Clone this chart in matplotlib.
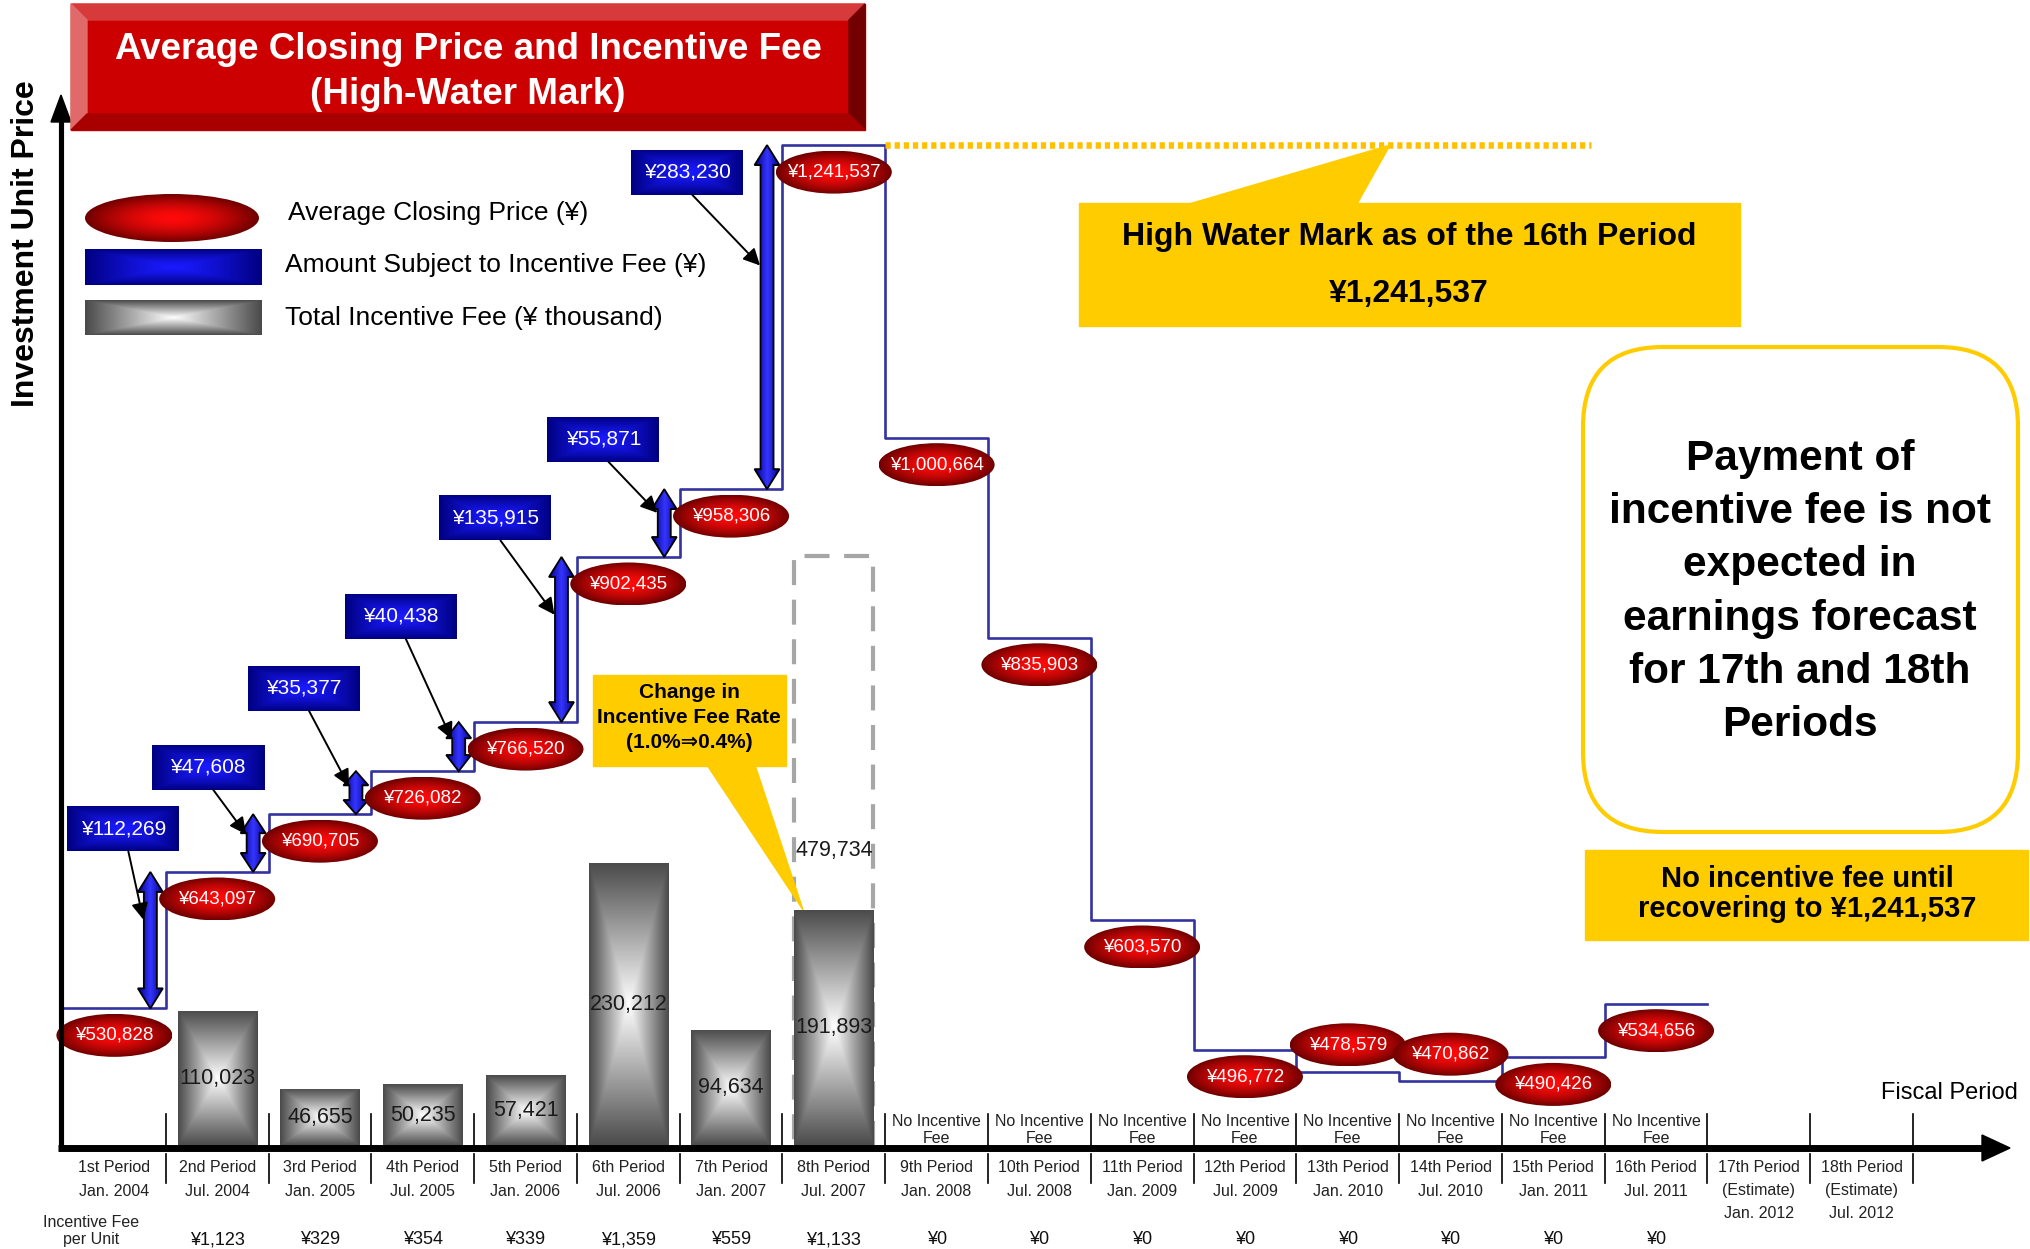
import numpy as np
import matplotlib
matplotlib.use("Agg")
import matplotlib.pyplot as plt
import matplotlib.patches as mpatches
import matplotlib.transforms as mtrans
from matplotlib.colors import to_rgb

plt.rcParams['font.family'] = ['Liberation Sans', 'DejaVu Sans']

# ---- data ----
period_names = ["1st Period", "2nd Period", "3rd Period", "4th Period", "5th Period",
                "6th Period", "7th Period", "8th Period", "9th Period", "10th Period",
                "11th Period", "12th Period", "13th Period", "14th Period", "15th Period",
                "16th Period", "17th Period", "18th Period"]
period_dates = ["Jan. 2004", "Jul. 2004", "Jan. 2005", "Jul. 2005", "Jan. 2006", "Jul. 2006",
                "Jan. 2007", "Jul. 2007", "Jan. 2008", "Jul. 2008", "Jan. 2009", "Jul. 2009",
                "Jan. 2010", "Jul. 2010", "Jan. 2011", "Jul. 2011", "Jan. 2012", "Jul. 2012"]
estimate_periods = [17, 18]

closing_price = [530828, 643097, 690705, 726082, 766520, 902435, 958306, 1241537,
                 1000664, 835903, 603570, 496772, 478579, 470862, 490426, 534656]
amount_subject = [112269, 47608, 35377, 40438, 135915, 55871, 283230]   # periods 2-8
fee_periods = [2, 3, 4, 5, 6, 7, 8]
total_fee = [110023, 46655, 50235, 57421, 230212, 94634, 191893]       # yen thousand
fee_old_rate = 479734                                                  # 8th period at 1.0%
fee_per_unit = [None, 1123, 329, 354, 339, 1359, 559, 1133, 0, 0, 0, 0, 0, 0, 0, 0]
high_water_mark = 1241537

# ---- figure / axes ----
W, H = 2031, 1249
fig = plt.figure(figsize=(W / 100, H / 100), dpi=100)
axf = fig.add_axes([0, 0, 1, 1])   # incentive fee bars
ax = fig.add_axes([0, 0, 1, 1])    # unit price
axo = fig.add_axes([0, 0, 1, 1])   # decorations, pixel coords
for a in (axf, ax, axo):
    a.set_axis_off()
    a.set_autoscale_on(False)

XL = (-0.113, 19.648)
ax.set_xlim(XL)
ax.set_ylim(332700, 1361000)
axf.set_xlim(XL)
axf.set_ylim(-83700, 931300)
axo.set_xlim(0, W)
axo.set_ylim(H, 0)

sx = (XL[1] - XL[0]) / W
sy = (1361000 - 332700) / H

tb = mtrans.blended_transform_factory(ax.transData, axo.transData)


def to_px(a, x, y):
    d = a.transData.transform((x, y))
    return axo.transData.inverted().transform(d)


def shade(a, patch, extent, c_in, c_out, mode='rect', z=3, power=1.0):
    u = np.linspace(-1, 1, 200)
    U, V = np.meshgrid(u, u)
    if mode == 'radial':
        t = np.clip(np.hypot(U, V), 0, 1)
    elif mode == 'h':
        t = np.abs(U)
    else:
        t = np.maximum(np.abs(U), np.abs(V))
    t = t ** power
    ci, co = np.array(to_rgb(c_in)), np.array(to_rgb(c_out))
    img = (1 - t)[..., None] * ci + t[..., None] * co
    im = a.imshow(img, extent=extent, aspect='auto', interpolation='bilinear', zorder=z)
    if patch.axes is None:
        a.add_patch(patch)
    patch.set_zorder(z + 0.01)
    im.set_clip_path(patch)


# ---- fee bars ----
bars = axf.bar(fee_periods, total_fee, width=0.77, facecolor='none', edgecolor='none', zorder=3)
for b in bars:
    shade(axf, b, (b.get_x(), b.get_x() + b.get_width(), 0, b.get_height()),
          '#ffffff', '#4a4a4a', 'rect', z=3)
axf.bar([fee_periods[-1]], [fee_old_rate], width=0.77, fill=False, edgecolor='#a6a6a6',
        lw=3, linestyle=(0, (6, 3.5)), zorder=2)
for p, v in zip(fee_periods, total_fee):
    axf.text(p, v / 2, f"{v:,}", ha='center', va='center', fontsize=15.5, color='#1a1a1a', zorder=5)
axf.text(fee_periods[-1], fee_old_rate / 2, f"{fee_old_rate:,}", ha='center', va='center',
         fontsize=15.5, color='#1a1a1a', zorder=5)

# ---- price step line ----
edges = np.arange(0.5, len(closing_price) + 1)
ax.step(edges, np.append(closing_price, closing_price[-1]), where='post',
        color='#3333a0', lw=1.9, zorder=2)
ax.plot([8.5, 15.37], [high_water_mark, high_water_mark], color='#ffc000', lw=4.7,
        linestyle=(0, (0.8, 0.6)), solid_capstyle='butt', zorder=2)

# amount subject to incentive fee: double arrows + boxes
box_offsets = [(-27, -43), (-45, -47), (-52, -83), (-58, -106), (-66, -39), (-61, -50), (-80, 27)]
for k, amt in enumerate(amount_subject):
    i = fee_periods[k]
    y1 = closing_price[i - 1]
    y0 = y1 - amt
    xc = i - 0.65
    hw, HW = 6.5 * sx, 12.5 * sx
    hl = min(20, (y1 - y0) / sy * 0.33) * sy
    pts = [(xc, y0), (xc + HW, y0 + hl), (xc + hw, y0 + hl), (xc + hw, y1 - hl),
           (xc + HW, y1 - hl), (xc, y1), (xc - HW, y1 - hl), (xc - hw, y1 - hl),
           (xc - hw, y0 + hl), (xc - HW, y0 + hl)]
    poly = mpatches.Polygon(pts, closed=True, fc='none', ec='black', lw=1.3)
    shade(ax, poly, (xc - HW, xc + HW, y0, y1), '#3535ff', '#000088', 'h', z=4)

    dx, dy = box_offsets[k]
    bx, by = xc + dx * sx, y1 - dy * sy
    bw, bh = 112 * sx, 45 * sy
    rect = mpatches.Rectangle((bx - bw / 2, by - bh / 2), bw, bh, fc='none', ec='none')
    shade(ax, rect, (bx - bw / 2, bx + bw / 2, by - bh / 2, by + bh / 2),
          '#1a1aff', '#000080', 'rect', z=5, power=1.3)
    ax.text(bx, by, f"¥{amt:,}", ha='center', va='center', color='white', fontsize=15, zorder=6)
    ax.annotate('', xy=(xc - 7 * sx, y1 - 0.35 * (y1 - y0)), xytext=(bx + 5 * sx, by - bh / 2),
                arrowprops=dict(arrowstyle='-|>', color='black', lw=1.4, mutation_scale=25,
                                shrinkA=0, shrinkB=0), zorder=6)

# closing price ellipses
label_above = {13, 14}
for n, p in enumerate(closing_price, start=1):
    yc = p + 27 * sy if n in label_above else p - 27 * sy
    ew, eh = 116 * sx, 43 * sy
    ell = mpatches.Ellipse((n, yc), ew, eh, fc='none', ec='none')
    shade(ax, ell, (n - ew / 2, n + ew / 2, yc - eh / 2, yc + eh / 2),
          '#ff0a0a', '#6e0000', 'radial', z=7, power=1.6)
    ax.text(n, yc, f"¥{p:,}", ha='center', va='center', color='white', fontsize=13.5, zorder=8)

# ---- axes arrows, ticks, labels ----
axo.plot([61, 61], [1150, 112], color='black', lw=3.7, solid_capstyle='butt')
axo.add_patch(mpatches.Polygon([(61, 95), (51, 122), (71, 122)], closed=True, color='black'))
axo.plot([58, 1985], [1148, 1148], color='black', lw=5, solid_capstyle='butt')
axo.add_patch(mpatches.Polygon([(2010, 1148), (1982, 1135), (1982, 1161)], closed=True, color='black'))

for bnd in np.arange(1.5, 19):
    axo.plot([bnd, bnd], [1114, 1146], transform=tb, color='black', lw=1.2)
    axo.plot([bnd, bnd], [1154, 1183], transform=tb, color='black', lw=1.2)

for n, (name, date) in enumerate(zip(period_names, period_dates), start=1):
    axo.text(n, 1167, name, transform=tb, ha='center', va='center', fontsize=11.5, color='#222222')
    if n in estimate_periods:
        axo.text(n, 1190, "(Estimate)", transform=tb, ha='center', va='center', fontsize=11.5, color='#222222')
        axo.text(n, 1213, date, transform=tb, ha='center', va='center', fontsize=11.5, color='#222222')
    else:
        axo.text(n, 1192, date, transform=tb, ha='center', va='center', fontsize=11.5, color='#222222')

axo.text(91, 1231, "Incentive Fee\nper Unit", ha='center', va='center', fontsize=11.5,
         color='#222222', linespacing=1.1)
for n, v in enumerate(fee_per_unit, start=1):
    if v is None:
        continue
    axo.text(n, 1240, f"¥{v:,}", transform=tb, ha='center', va='center', fontsize=13, color='#111111')
    if v == 0:
        axo.text(n, 1130, "No Incentive\nFee", transform=tb, ha='center', va='center',
                 fontsize=11.5, color='#222222', linespacing=1.1)

axo.text(1949, 1093, "Fiscal Period", ha='center', va='center', fontsize=17)
axo.text(26, 244, "Investment Unit Price", rotation=90, ha='center', va='center',
         fontsize=23, fontweight='bold')

# ---- title banner ----
L, R, T, B, bv = 71, 865, 4, 130, 16
axo.add_patch(mpatches.Rectangle((L, T), R - L, B - T, color='#cc0000'))
axo.add_patch(mpatches.Polygon([(L, T), (R, T), (R - bv, T + bv), (L + bv, T + bv)], color='#d63a3a'))
axo.add_patch(mpatches.Polygon([(L, T), (L + bv, T + bv), (L + bv, B - bv), (L, B)], color='#e06a6a'))
axo.add_patch(mpatches.Polygon([(R, T), (R, B), (R - bv, B - bv), (R - bv, T + bv)], color='#730000'))
axo.add_patch(mpatches.Polygon([(L, B), (R, B), (R - bv, B - bv), (L + bv, B - bv)], color='#a80000'))
axo.text((L + R) / 2, 72, "Average Closing Price and Incentive Fee\n(High-Water Mark)",
         ha='center', va='center', color='white', fontsize=26.5, fontweight='bold', linespacing=1.35)

# ---- legend ----
ell = mpatches.Ellipse((172, 218), 174, 48, fc='none', ec='none')
shade(axo, ell, (85, 259, 242, 194), '#ff0a0a', '#6e0000', 'radial', z=3, power=1.6)
r1 = mpatches.Rectangle((85, 249), 177, 36, fc='none', ec='none')
shade(axo, r1, (85, 262, 285, 249), '#1a1aff', '#000080', 'rect', z=3, power=1.3)
r2 = mpatches.Rectangle((85, 300), 177, 35, fc='none', ec='none')
shade(axo, r2, (85, 262, 335, 300), '#ffffff', '#4a4a4a', 'rect', z=3)
axo.text(288, 213, "Average Closing Price (¥)", va='center', fontsize=19)
axo.text(285, 265, "Amount Subject to Incentive Fee (¥)", va='center', fontsize=19)
axo.text(285, 318, "Total Incentive Fee (¥ thousand)", va='center', fontsize=19)

# ---- callouts ----
yellow = '#ffcc00'
tip = to_px(axf, fee_periods[-1] - 0.3, total_fee[-1])
axo.add_patch(mpatches.Rectangle((593, 675), 193, 91, color=yellow, zorder=4))
axo.add_patch(mpatches.Polygon([(707, 765), (755, 765), tuple(tip)], color=yellow, zorder=4))
axo.text(689, 717, "Change in\nIncentive Fee Rate\n(1.0%⇒0.4%)", ha='center', va='center',
         fontsize=15, fontweight='bold', linespacing=1.4, zorder=5)

hwm_y = to_px(ax, 0, high_water_mark)[1]
axo.add_patch(mpatches.Rectangle((1079, 203), 661, 123, color=yellow, zorder=4))
axo.add_patch(mpatches.Polygon([(1189, 204), (1357, 204), (1390, hwm_y)], color=yellow, zorder=4))
axo.text(1409, 237, "High Water Mark as of the 16th Period", ha='center', va='center',
         fontsize=23, fontweight='bold', zorder=5)
axo.text(1409, 294, f"¥{high_water_mark:,}", ha='center', va='center',
         fontsize=23, fontweight='bold', zorder=5)

axo.add_patch(mpatches.FancyBboxPatch((1583, 347), 435, 485,
                                      boxstyle='round,pad=0,rounding_size=80',
                                      fc='white', ec=yellow, lw=3))
axo.text(1800, 592, "Payment of\nincentive fee is not\nexpected in\nearnings forecast\n"
         "for 17th and 18th\nPeriods", ha='center', va='center', fontsize=30.5,
         fontweight='bold', linespacing=1.42)

axo.add_patch(mpatches.Rectangle((1585, 850), 443, 90, color=yellow))
axo.text(1807, 894, f"No incentive fee until\nrecovering to ¥{high_water_mark:,}",
         ha='center', va='center', fontsize=21, fontweight='bold', linespacing=1.1)

ax.set_xlim(XL)
ax.set_ylim(332700, 1361000)
axf.set_xlim(XL)
axf.set_ylim(-83700, 931300)
axo.set_xlim(0, W)
axo.set_ylim(H, 0)

fig.savefig("out.png", dpi=100)
